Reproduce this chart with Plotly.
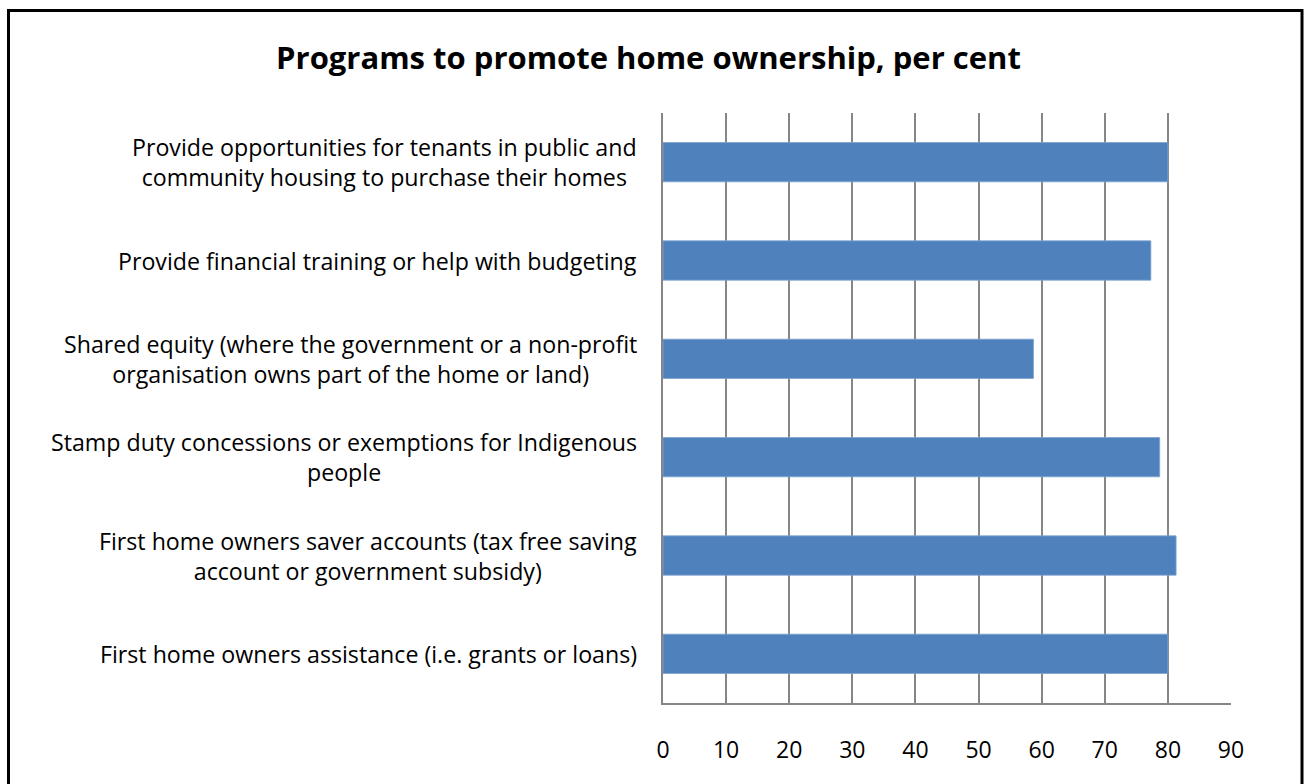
import plotly.graph_objects as go

# Survey results: share of respondents supporting each program (per cent)
programs = [
    "Provide opportunities for tenants in public and<br>community housing to purchase their homes",
    "Provide financial training or help with budgeting",
    "Shared equity (where the government or a non-profit<br>organisation owns part of the home or land)",
    "Stamp duty concessions or exemptions for Indigenous<br>people",
    "First home owners saver accounts (tax free saving<br>account or government subsidy)",
    "First home owners assistance (i.e. grants or loans)",
]
support_pct = [80.0, 77.3, 58.7, 78.7, 81.3, 80.0]
x_ticks = [0, 10, 20, 30, 40, 50, 60, 70, 80, 90]

title_text = "Programs to promote home ownership, per cent"

# Canvas geometry (pixels)
W, H = 1304, 784
L, R, T, B = 663, 73, 113, 81
PW, PH = W - L - R, H - T - B

FONT = "Open Sans"
LABEL_SIZE = 23.2
BAR_BLUE = "#4F81BD"
GRID = "#868686"

fig = go.Figure()
fig.add_trace(go.Bar(
    x=support_pct,
    y=programs,
    orientation="h",
    marker=dict(color=BAR_BLUE, line=dict(color="#7ea3d1", width=0.8)),
    hoverinfo="x+y",
))

# Category labels: centred lines, right-aligned block next to the axis
for name in programs:
    fig.add_annotation(
        x=0, xref="paper", y=name, yref="y",
        text=name, showarrow=False,
        xanchor="right", yanchor="middle", align="center",
        xshift=-24,
        font=dict(family=FONT, size=LABEL_SIZE, color="#000000"),
    )

# Outer chart frame
def px_x(p):
    return (p - L) / PW

def px_y(p):
    return (H - B - p) / PH

fig.add_shape(
    type="rect", xref="paper", yref="paper",
    x0=px_x(8.5), x1=px_x(1302), y0=px_y(800), y1=px_y(10.5),
    line=dict(color="#000000", width=3), fillcolor="rgba(0,0,0,0)",
    layer="above",
)

fig.update_layout(
    width=W, height=H,
    margin=dict(l=L, r=R, t=T, b=B, pad=0),
    paper_bgcolor="white", plot_bgcolor="white",
    bargap=0.6,
    showlegend=False,
    font=dict(family=FONT, size=LABEL_SIZE, color="#000000"),
    title=dict(
        text="<b>" + title_text + "</b>",
        x=648.5 / W, xanchor="center",
        y=1 - 58 / H, yanchor="middle",
        font=dict(family=FONT, size=31, color="#000000"),
    ),
    xaxis=dict(
        range=[0, 90],
        tickvals=x_ticks,
        ticktext=[str(v) for v in x_ticks],
        showgrid=True, gridcolor=GRID, gridwidth=1.8,
        showline=True, linecolor=GRID, linewidth=1.8,
        zeroline=False,
        ticks="", ticklabelstandoff=25,
        tickfont=dict(family=FONT, size=23, color="#000000"),
        fixedrange=True,
    ),
    yaxis=dict(
        autorange="reversed",
        showticklabels=False,
        showgrid=False,
        showline=True, linecolor=GRID, linewidth=1.8,
        ticks="",
        fixedrange=True,
    ),
)

fig.write_html("out.html")
